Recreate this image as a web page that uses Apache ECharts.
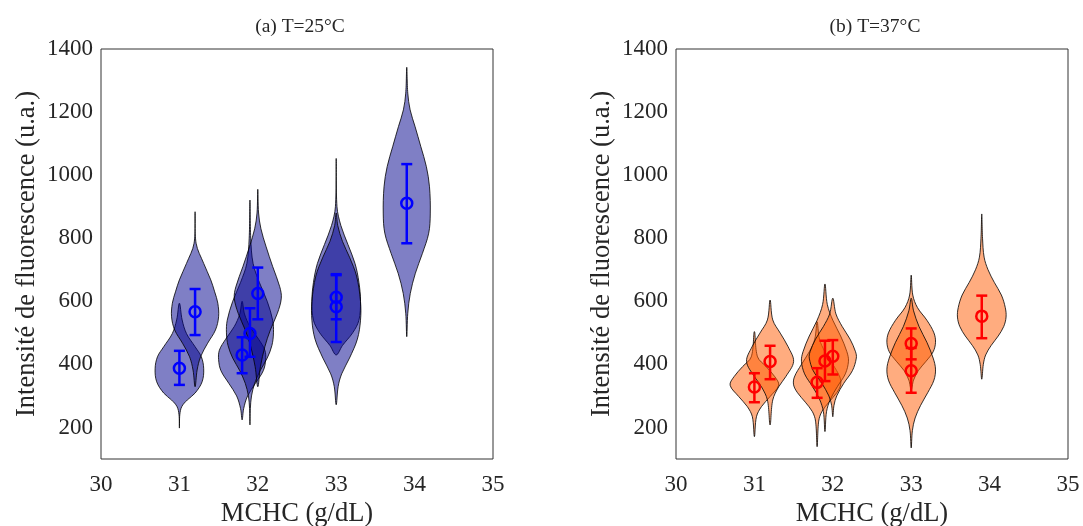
<!DOCTYPE html>
<html>
<head>
<meta charset="utf-8">
<script src="https://cdn.jsdelivr.net/npm/echarts@6/dist/echarts.min.js"></script>
<style>html,body{margin:0;padding:0;background:#fff}#c{width:1083px;height:526px}</style>
</head>
<body>
<div id="c"></div>
<script>
// ---- data ----
const titles = ['(a) T=25°C', '(b) T=37°C'];
const yTickLabels = [200, 400, 600, 800, 1000, 1200, 1400];

// Panel (a) T=25°C
const posA  = [31.0, 31.2, 31.8, 31.9, 32.0, 33.0, 33.0, 33.9];
const meanA = [388, 567, 430, 498, 625, 613, 583, 911];
const lowA  = [335, 493, 372, 424, 543, 543, 471, 784];
const highA = [443, 639, 486, 578, 707, 683, 686, 1035];
// violin outlines: [value, half-width in MCHC units]
const shapesA = [
  [[198,0],[240,0.005],[266,0.03],[287,0.10],[309,0.20],[345,0.29],[386,0.31],[424,0.28],[456,0.20],[498,0.09],[541,0.035],[594,0]],
  [[329,0],[382,0.026],[424,0.07],[467,0.16],[509,0.26],[551,0.30],[594,0.29],[630,0.25],[668,0.20],[720,0.11],[784,0.013],[884,0]],
  [[224,0],[260,0.02],[300,0.07],[340,0.17],[380,0.27],[415,0.30],[445,0.29],[480,0.21],[520,0.1],[560,0.03],[600,0]],
  [[208,0],[260,0.005],[300,0.02],[340,0.06],[380,0.13],[420,0.22],[460,0.28],[500,0.30],[540,0.29],[600,0.22],[660,0.12],[720,0.04],[800,0.01],[921,0]],
  [[329,0],[393,0.034],[456,0.09],[509,0.16],[562,0.25],[610,0.30],[646,0.28],[710,0.19],[773,0.106],[830,0.04],[880,0.01],[955,0]],
  [[430,0],[460,0.08],[500,0.21],[540,0.29],[600,0.31],[660,0.29],[720,0.24],[780,0.15],[840,0.06],[900,0.01],[1053,0]],
  [[272,0],[330,0.025],[370,0.07],[420,0.17],[480,0.27],[540,0.31],[600,0.31],[680,0.26],[740,0.17],[790,0.08],[840,0.02],[880,0]],
  [[488,0],[562,0.013],[625,0.045],[689,0.11],[752,0.20],[816,0.28],[877,0.30],[963,0.29],[1027,0.25],[1090,0.18],[1154,0.106],[1207,0.043],[1260,0.013],[1342,0]]
];

// Panel (b) T=37°C
const posB  = [31.0, 31.2, 31.8, 31.9, 32.0, 33.0, 33.0, 33.9];
const meanB = [328, 409, 343, 411, 426, 466, 380, 553];
const lowB  = [280, 353, 294, 347, 368, 416, 310, 483];
const highB = [372, 459, 388, 475, 477, 514, 452, 618];
const shapesB = [
  [[171,0],[234,0.026],[266,0.09],[298,0.20],[334,0.31],[361,0.26],[393,0.15],[424,0.04],[504,0]],
  [[208,0],[287,0.034],[329,0.11],[361,0.20],[409,0.30],[456,0.23],[499,0.13],[541,0.034],[604,0]],
  [[139,0],[220,0.02],[250,0.06],[280,0.15],[310,0.25],[335,0.30],[360,0.29],[400,0.2],[440,0.1],[480,0.03],[535,0]],
  [[187,0],[250,0.02],[290,0.07],[330,0.16],[370,0.26],[410,0.30],[440,0.28],[490,0.2],[540,0.1],[590,0.03],[655,0]],
  [[234,0],[270,0.015],[300,0.05],[340,0.14],[380,0.25],[420,0.30],[440,0.29],[480,0.22],[520,0.12],[560,0.04],[610,0]],
  [[320,0],[350,0.03],[380,0.09],[410,0.19],[440,0.28],[470,0.31],[500,0.29],[540,0.2],[580,0.08],[620,0.02],[683,0]],
  [[135,0],[190,0.015],[230,0.05],[270,0.12],[310,0.21],[350,0.29],[385,0.31],[420,0.28],[470,0.2],[520,0.1],[570,0.03],[610,0]],
  [[353,0],[400,0.02],[430,0.05],[460,0.12],[490,0.21],[520,0.28],[550,0.31],[580,0.30],[620,0.25],[660,0.16],[700,0.08],[740,0.03],[800,0.01],[877,0]]
];

// ---- styling ----
const FONT = '"Liberation Serif", "Times New Roman", serif';
const TXT = '#262626';
const panels = [
  {pos: posA, mean: meanA, low: lowA, high: highA, shapes: shapesA, fill: 'rgba(0,0,139,0.5)', mark: '#0000ff'},
  {pos: posB, mean: meanB, low: lowB, high: highB, shapes: shapesB, fill: 'rgba(255,90,0,0.5)', mark: '#ff0000'}
];
const gridLeft = [101, 676];

const chart = echarts.init(document.getElementById('c'), null, {renderer: 'canvas'});

const grids = [], xAxes = [], yAxes = [], series = [], titleOpts = [];
panels.forEach((p, k) => {
  grids.push({left: gridLeft[k], top: 49, width: 392, height: 410, show: true,
    borderColor: '#333', borderWidth: 1, backgroundColor: 'transparent',
    containLabel: false, outerBoundsMode: 'none'});
  xAxes.push({gridIndex: k, type: 'value', min: 30, max: 35, interval: 1,
    name: 'MCHC (g/dL)', nameLocation: 'middle', nameGap: 41,
    nameTextStyle: {fontFamily: FONT, fontSize: 26.5, color: TXT},
    axisLine: {show: false}, axisTick: {show: false}, splitLine: {show: false},
    axisLabel: {fontFamily: FONT, fontSize: 23, color: TXT, margin: 14, formatter: v => String(v)}});
  yAxes.push({gridIndex: k, type: 'value', min: 100, max: 1400,
    name: 'Intensité de fluorescence (u.a.)', nameLocation: 'middle', nameGap: 60,
    nameTextStyle: {fontFamily: FONT, fontSize: 26.5, color: TXT},
    axisLine: {show: false}, axisTick: {show: false}, splitLine: {show: false},
    axisLabel: {fontFamily: FONT, fontSize: 23, color: TXT, margin: 8,
      customValues: yTickLabels, formatter: v => String(v)}});
  titleOpts.push({text: titles[k], left: gridLeft[k] + 194, top: 12, textAlign: 'center',
    textStyle: {fontFamily: FONT, fontSize: 19.5, fontWeight: 'normal', color: TXT}});

  // violins
  series.push({
    type: 'custom', xAxisIndex: k, yAxisIndex: k, z: 2, silent: true,
    data: p.pos.map((x, i) => [x, p.mean[i]]),
    renderItem: function (params, api) {
      const i = params.dataIndex;
      const x = p.pos[i];
      const prof = p.shapes[i];
      const pts = [];
      for (let j = 0; j < prof.length; j++) pts.push(api.coord([x + prof[j][1], prof[j][0]]));
      for (let j = prof.length - 2; j >= 1; j--) pts.push(api.coord([x - prof[j][1], prof[j][0]]));
      return {type: 'polygon', shape: {points: pts, smooth: 0.35},
        style: {fill: p.fill, stroke: '#000', lineWidth: 0.8}};
    }
  });
  // error bars + hollow circle markers
  series.push({
    type: 'custom', xAxisIndex: k, yAxisIndex: k, z: 5, silent: true,
    data: p.pos.map((x, i) => [x, p.mean[i], p.low[i], p.high[i]]),
    renderItem: function (params, api) {
      const x = api.value(0);
      const c = api.coord([x, api.value(1)]);
      const lo = api.coord([x, api.value(2)]);
      const hi = api.coord([x, api.value(3)]);
      const st = {stroke: p.mark, lineWidth: 2.5, fill: null};
      const cap = 5.5;
      return {type: 'group', children: [
        {type: 'line', shape: {x1: lo[0], y1: lo[1], x2: hi[0], y2: hi[1]}, style: st},
        {type: 'line', shape: {x1: lo[0] - cap, y1: lo[1], x2: lo[0] + cap, y2: lo[1]}, style: st},
        {type: 'line', shape: {x1: hi[0] - cap, y1: hi[1], x2: hi[0] + cap, y2: hi[1]}, style: st},
        {type: 'circle', shape: {cx: c[0], cy: c[1], r: 5.5}, style: {stroke: p.mark, lineWidth: 2.5, fill: 'rgba(0,0,0,0)'}}
      ]};
    }
  });
});

chart.setOption({
  animation: false,
  backgroundColor: '#fff',
  title: titleOpts,
  grid: grids,
  xAxis: xAxes,
  yAxis: yAxes,
  series: series
});
</script>
</body>
</html>
